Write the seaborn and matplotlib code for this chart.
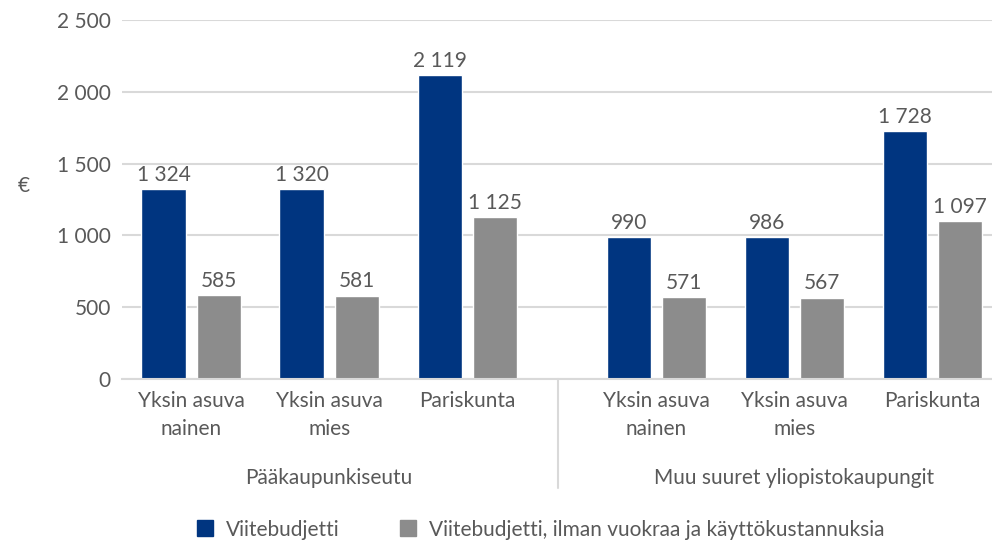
import pandas as pd
import matplotlib.pyplot as plt
import matplotlib.transforms as mtransforms
from matplotlib.lines import Line2D
import seaborn as sns

# Data
regions = ["Pääkaupunkiseutu", "Muu suuret yliopistokaupungit"]
households = ["Yksin asuva\nnainen", "Yksin asuva\nmies", "Pariskunta"]
series_names = ["Viitebudjetti", "Viitebudjetti, ilman vuokraa ja käyttökustannuksia"]
viitebudjetti = [1324, 1320, 2119, 990, 986, 1728]
ilman_vuokraa = [585, 581, 1125, 571, 567, 1097]

# Layout: second region is shifted a bit to leave a gap between the groups
positions = [0, 1, 2, 3.37, 4.37, 5.37]
tick_labels = households * 2

blue = "#003580"
grey = "#8c8c8c"
text_col = "#595959"
grid_col = "#d9d9d9"

sns.set_theme(style="white")
plt.rcParams['font.family'] = ['Lato', 'DejaVu Sans']
fs = 15

df = pd.DataFrame({
    "pos": positions * 2,
    "value": viitebudjetti + ilman_vuokraa,
    "series": [series_names[0]] * 6 + [series_names[1]] * 6,
})

fig = plt.figure(figsize=(9.92, 5.49), dpi=100)
ax = fig.add_axes([0.123, 0.3097, 0.877, 0.6539])

sns.barplot(data=df, x="pos", y="value", hue="series", native_scale=True,
            palette=[blue, grey], width=0.8, gap=0.2, legend=False, ax=ax,
            saturation=1, err_kws={"linewidth": 0})


def fmt(v):
    return f"{v:,.0f}".replace(",", " ")


for cont in ax.containers:
    ax.bar_label(cont, labels=[fmt(b.get_height()) for b in cont],
                 padding=3, fontsize=fs, color=text_col)

ax.set_ylim(0, 2500)
ax.set_yticks(range(0, 2501, 500))
ax.set_yticklabels([fmt(v) for v in range(0, 2501, 500)])
ax.set_xlim(-0.5, 5.8)
ax.set_xticks(positions)
ax.set_xticklabels(tick_labels, linespacing=1.45)
ax.tick_params(axis='both', length=0, labelsize=fs, labelcolor=text_col)
ax.tick_params(axis='x', pad=9)
ax.tick_params(axis='y', pad=8)

ax.yaxis.grid(True, color=grid_col, linewidth=1.5)
ax.set_axisbelow(True)
for s in ["top", "right", "left"]:
    ax.spines[s].set_visible(False)
ax.spines["bottom"].set_color(grid_col)
ax.spines["bottom"].set_linewidth(1.5)

ax.set_xlabel("")
ax.set_ylabel("€", rotation=0, fontsize=fs, color=text_col)
ax.yaxis.set_label_coords(-0.113, 0.51)

# region labels and separator line
trans = mtransforms.blended_transform_factory(ax.transData, ax.transAxes)
ax.text(1, -0.276, regions[0], transform=trans, ha="center", va="center",
        fontsize=fs, color=text_col)
ax.text(4.37, -0.276, regions[1], transform=trans, ha="center", va="center",
        fontsize=fs, color=text_col)
ax.add_line(Line2D([2.66, 2.66], [0, -0.304], transform=trans, color=grid_col,
                   linewidth=1.5, clip_on=False))

handles = [Line2D([], [], marker="s", linestyle="", markersize=11, color=c)
           for c in (blue, grey)]
fig.legend(handles, series_names, loc="center", bbox_to_anchor=(0.545, 0.035),
           ncol=2, frameon=False, fontsize=fs, labelcolor=text_col,
           handlelength=0.8, handletextpad=0.6, columnspacing=2.9)

fig.savefig("out.png", dpi=100)
